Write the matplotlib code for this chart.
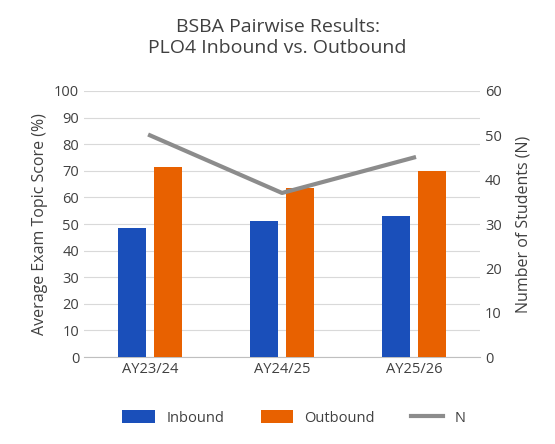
import matplotlib
matplotlib.use("Agg")
import matplotlib.pyplot as plt
import numpy as np

plt.rcParams['font.family'] = ['Open Sans', 'DejaVu Sans']

categories = ["AY23/24", "AY24/25", "AY25/26"]
inbound = [48.5, 51, 53]
outbound = [71.5, 63.5, 70]
n_students = [50, 37, 45]

fig = plt.figure(figsize=(5.55, 4.44), dpi=100)
ax = fig.add_axes([84/555, 1-357/444, 396/555, 266/444])
x = np.arange(len(categories))
w = 0.215
tc = '#404040'
ax.bar(x - 0.135, inbound, w, color='#1A4FBA', label='Inbound', zorder=3)
ax.bar(x + 0.135, outbound, w, color='#E86100', label='Outbound', zorder=3)
ax.set_ylim(0, 100)
ax.set_yticks(range(0, 101, 10))
ax.set_xlim(-0.5, 2.5)
ax.set_xticks(x)
ax.set_xticklabels(categories)
ax.grid(axis='y', color='#D9D9D9', lw=0.8, zorder=0)
for s in ['top', 'right', 'left']:
    ax.spines[s].set_visible(False)
ax.spines['bottom'].set_color('#BFBFBF')
ax.tick_params(length=0, colors=tc, labelsize=10.5)
ax.set_ylabel('Average Exam Topic Score (%)', color=tc, fontsize=11.5)

ax2 = ax.twinx()
ax2.plot(x, n_students, color='#8C8C8C', lw=3, label='N', zorder=4)
ax2.set_ylim(0, 60)
ax2.set_yticks(range(0, 61, 10))
for s in ['top', 'right', 'left', 'bottom']:
    ax2.spines[s].set_visible(False)
ax2.tick_params(length=0, colors=tc, labelsize=10.5)
ax2.set_ylabel('Number of Students (N)', color=tc, fontsize=11.5, labelpad=10)

fig.suptitle('BSBA Pairwise Results:\nPLO4 Inbound vs. Outbound', y=0.96, fontsize=14, color=tc)
h1, l1 = ax.get_legend_handles_labels()
h2, l2 = ax2.get_legend_handles_labels()
fig.legend(h1 + h2, l1 + l2, loc='center', bbox_to_anchor=(0.53, 1-418/444), ncol=3,
           frameon=False, fontsize=10.5, labelcolor=tc, handlelength=2.2, handleheight=0.9,
           columnspacing=2.5)
fig.savefig('out.png', dpi=100)
